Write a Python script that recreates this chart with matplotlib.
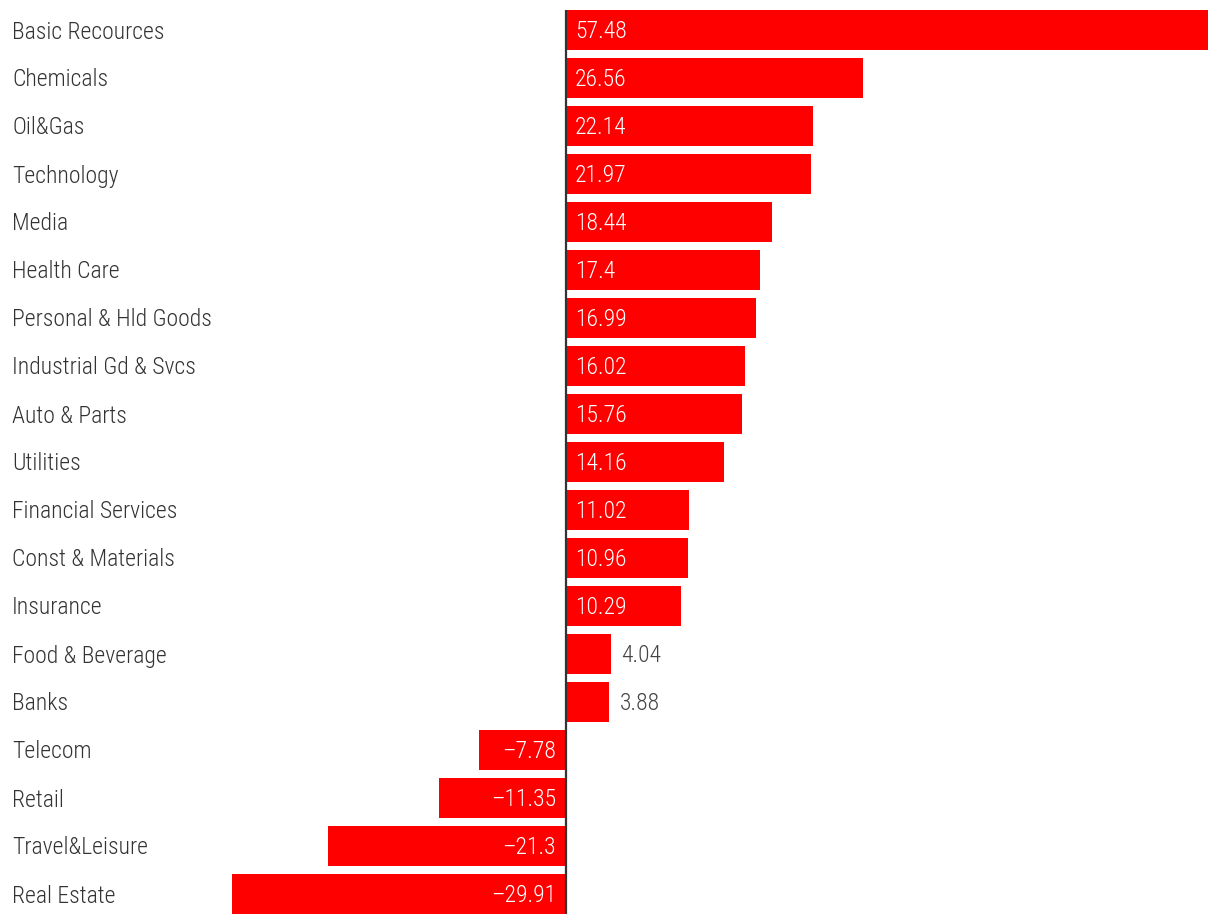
import numpy as np
import matplotlib.pyplot as plt
from matplotlib import font_manager

sectors = ["Basic Recources", "Chemicals", "Oil&Gas", "Technology", "Media",
           "Health Care", "Personal & Hld Goods", "Industrial Gd & Svcs",
           "Auto & Parts", "Utilities", "Financial Services", "Const & Materials",
           "Insurance", "Food & Beverage", "Banks", "Telecom", "Retail",
           "Travel&Leisure", "Real Estate"]
values = [57.48, 26.56, 22.14, 21.97, 18.44, 17.4, 16.99, 16.02, 15.76, 14.16,
          11.02, 10.96, 10.29, 4.04, 3.88, -7.78, -11.35, -21.3, -29.91]

# find a narrow font if there is one
fonts = font_manager.fontManager.ttflist
names = {f.name for f in fonts}
family, stretch, size, weight = "DejaVu Sans", "normal", 14, "normal"
for cand in ["Roboto Condensed", "Liberation Sans Narrow", "Open Sans Condensed"]:
    if cand in names:
        family, size = cand, 17
        weights = {f.weight for f in fonts if f.name == cand}
        if 300 in weights or "light" in weights:
            weight = "light"
        break
else:
    narrow = [f for f in fonts if f.name == "DejaVu Sans" and "ondensed" in str(f.stretch)
              or "Condensed" in f.fname and f.name == "DejaVu Sans"]
    if narrow:
        stretch, size = "condensed", 15
FONT = [family, "DejaVu Sans"]

W, H = 1220, 924
fig = plt.figure(figsize=(W / 100, H / 100), dpi=100)
# axes placed in pixel terms: bars span x 232..1208, rows y 10..914
left, right, top, bottom = 232, 1208, 10, 914
ax = fig.add_axes([left / W, 1 - bottom / H, (right - left) / W, (bottom - top) / H])

y = np.arange(len(sectors))
ax.barh(y, values, height=40 / 48, color="#ff0000", zorder=2)
ax.set_xlim(min(values), max(values))
ax.set_ylim(len(sectors) - 1 + 20 / 48, -20 / 48)
ax.axvline(0, color="#333333", lw=1.6, zorder=3)

for s in ax.spines.values():
    s.set_visible(False)
ax.set_xticks([])
ax.set_yticks([])

txt = dict(fontsize=size, family=FONT, fontstretch=stretch, fontweight=weight, va="center")
unit = (right - left) / (max(values) - min(values))  # px per unit
for i, (name, v) in enumerate(zip(sectors, values)):
    fig.text(12 / W, 1 - (32 + 48 * i) / H, name, ha="left", color="#333333", **txt)
    lbl = f"{v:g}".replace("-", "\u2013")
    if v >= 0:
        if v * unit > 70:
            ax.annotate(lbl, (0, i), xytext=(9, -2), textcoords="offset pixels",
                        ha="left", color="white", zorder=4, **txt)
        else:
            ax.annotate(lbl, (v, i), xytext=(10, -2), textcoords="offset pixels",
                        ha="left", color="#444444", zorder=4, **txt)
    else:
        ax.annotate(lbl, (0, i), xytext=(-10, -2), textcoords="offset pixels",
                    ha="right", color="white", zorder=4, **txt)

fig.savefig("out.png", dpi=100)
